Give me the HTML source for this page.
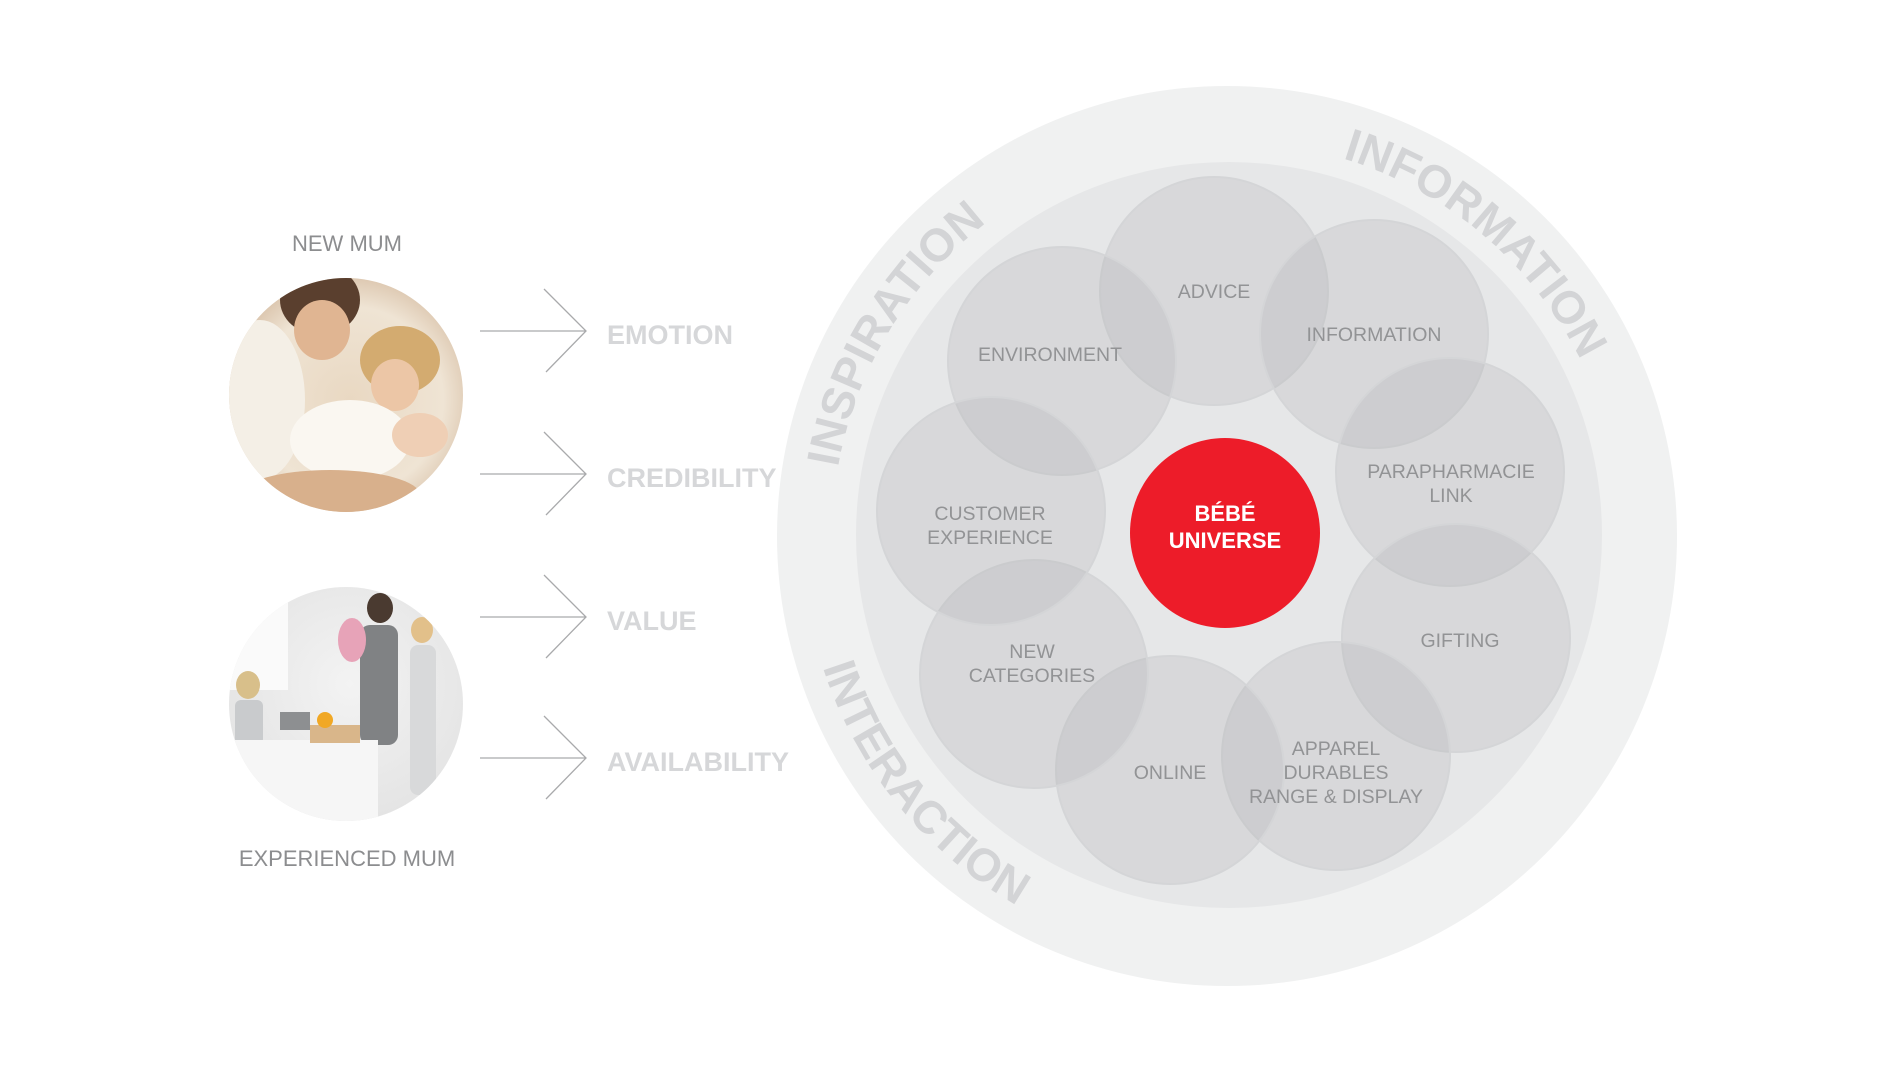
<!DOCTYPE html>
<html><head><meta charset="utf-8"><style>
html,body{margin:0;padding:0;background:#fff;}
svg{display:block;}
</style></head><body>
<svg width="1897" height="1067" viewBox="0 0 1897 1067" xmlns="http://www.w3.org/2000/svg">
<defs>
<radialGradient id="p1" cx="0.5" cy="0.5" r="0.6">
<stop offset="0" stop-color="#e9d8c2"/><stop offset="0.6" stop-color="#efe4d4"/><stop offset="1" stop-color="#c9a98a"/>
</radialGradient>
<radialGradient id="p2" cx="0.5" cy="0.4" r="0.6">
<stop offset="0" stop-color="#f3f3f3"/><stop offset="1" stop-color="#e2e2e2"/>
</radialGradient>
<clipPath id="c1"><circle cx="346" cy="395" r="117"/></clipPath>
<clipPath id="c2"><circle cx="346" cy="704" r="117"/></clipPath>
<path id="aInfo" d="M1342.5,158.3 A395,395 0 0 1 1622,536"/>
<path id="aInsp" d="M838,467.4 A395,395 0 0 1 1227,141"/>
<path id="aInter" d="M822.8,667.3 A425,425 0 0 0 1227,961"/>
</defs>

<g font-family="Liberation Sans, sans-serif">
<text x="347" y="251" text-anchor="middle" font-size="22" fill="#8c8d8f">NEW MUM</text>
<text x="347" y="866" text-anchor="middle" font-size="22" fill="#8c8d8f">EXPERIENCED MUM</text>
</g>

<g clip-path="url(#c1)">
<rect x="220" y="270" width="260" height="260" fill="url(#p1)"/>
<ellipse cx="320" cy="300" rx="40" ry="35" fill="#5a3f2e"/>
<ellipse cx="322" cy="330" rx="28" ry="30" fill="#e0b592"/>
<ellipse cx="400" cy="360" rx="40" ry="34" fill="#d3ab70"/>
<ellipse cx="395" cy="385" rx="24" ry="26" fill="#ecc6a6"/>
<ellipse cx="260" cy="400" rx="45" ry="80" fill="#f4efe6"/>
<ellipse cx="350" cy="440" rx="60" ry="40" fill="#faf7f1"/>
<ellipse cx="420" cy="435" rx="28" ry="22" fill="#efcfb5"/>
<ellipse cx="330" cy="495" rx="90" ry="25" fill="#d8b08c"/>
</g>
<g clip-path="url(#c2)">
<rect x="220" y="580" width="260" height="260" fill="url(#p2)"/>
<rect x="228" y="600" width="60" height="90" fill="#fafafa"/>
<ellipse cx="380" cy="608" rx="13" ry="15" fill="#4a3a30"/>
<rect x="360" y="625" width="38" height="120" rx="10" fill="#808284"/>
<ellipse cx="352" cy="640" rx="14" ry="22" fill="#e7a3b8"/>
<ellipse cx="422" cy="630" rx="11" ry="13" fill="#e2c08a"/>
<rect x="410" y="645" width="26" height="150" rx="8" fill="#d8d9da"/>
<ellipse cx="248" cy="685" rx="12" ry="14" fill="#d8bf8a"/>
<rect x="235" y="700" width="28" height="45" rx="6" fill="#c9cbcd"/>
<rect x="228" y="740" width="150" height="90" fill="#f6f6f6"/>
<rect x="310" y="725" width="50" height="18" fill="#d9b68a"/>
<circle cx="325" cy="720" r="8" fill="#f1a825"/>
<rect x="280" y="712" width="30" height="18" fill="#8d8f91"/>
</g>

<g stroke="#a9aaac" stroke-width="1.3" fill="none">
<path d="M480,331 H586 M544,289 L586,331 L546,372"/>
<path d="M480,474 H586 M544,432 L586,474 L546,515"/>
<path d="M480,617 H586 M544,575 L586,617 L546,658"/>
<path d="M480,758 H586 M544,716 L586,758 L546,799"/>
</g>
<g font-family="Liberation Sans, sans-serif" font-weight="bold" font-size="27" fill="#d6d7d9">
<text x="607" y="344">EMOTION</text>
<text x="607" y="487">CREDIBILITY</text>
<text x="607" y="630">VALUE</text>
<text x="607" y="771">AVAILABILITY</text>
</g>

<circle cx="1227" cy="536" r="450" fill="#f0f1f1"/>
<circle cx="1229" cy="535" r="373" fill="#e6e7e8"/>

<g font-family="Liberation Sans, sans-serif" font-weight="bold" font-size="46" fill="#d3d4d6">
<text><textPath href="#aInfo">INFORMATION</textPath></text>
<text><textPath href="#aInsp">INSPIRATION</textPath></text>
<text><textPath href="#aInter">INTERACTION</textPath></text>
</g>

<g fill="rgba(170,172,176,0.24)" stroke="#d4d5d7" stroke-width="2">
<circle cx="1214" cy="291" r="114"/>
<circle cx="1062" cy="361" r="114"/>
<circle cx="1374" cy="334" r="114"/>
<circle cx="1450" cy="472" r="114"/>
<circle cx="1456" cy="638" r="114"/>
<circle cx="1336" cy="756" r="114"/>
<circle cx="1170" cy="770" r="114"/>
<circle cx="1034" cy="674" r="114"/>
<circle cx="991" cy="511" r="114"/>
</g>

<g font-family="Liberation Sans, sans-serif" font-size="19.5" fill="#929395" text-anchor="middle">
<text x="1214" y="298">ADVICE</text>
<text x="1050" y="361">ENVIRONMENT</text>
<text x="1374" y="341">INFORMATION</text>
<text x="1451" y="478">PARAPHARMACIE</text>
<text x="1451" y="502">LINK</text>
<text x="990" y="520">CUSTOMER</text>
<text x="990" y="544">EXPERIENCE</text>
<text x="1460" y="647">GIFTING</text>
<text x="1032" y="658">NEW</text>
<text x="1032" y="682">CATEGORIES</text>
<text x="1170" y="779">ONLINE</text>
<text x="1336" y="755">APPAREL</text>
<text x="1336" y="779">DURABLES</text>
<text x="1336" y="803">RANGE &amp; DISPLAY</text>
</g>

<circle cx="1225" cy="533" r="95" fill="#ed1c29"/>
<g font-family="Liberation Sans, sans-serif" font-weight="bold" font-size="22" fill="#ffffff" text-anchor="middle">
<text x="1225" y="521">BÉBÉ</text>
<text x="1225" y="548">UNIVERSE</text>
</g>
</svg>
</body></html>
